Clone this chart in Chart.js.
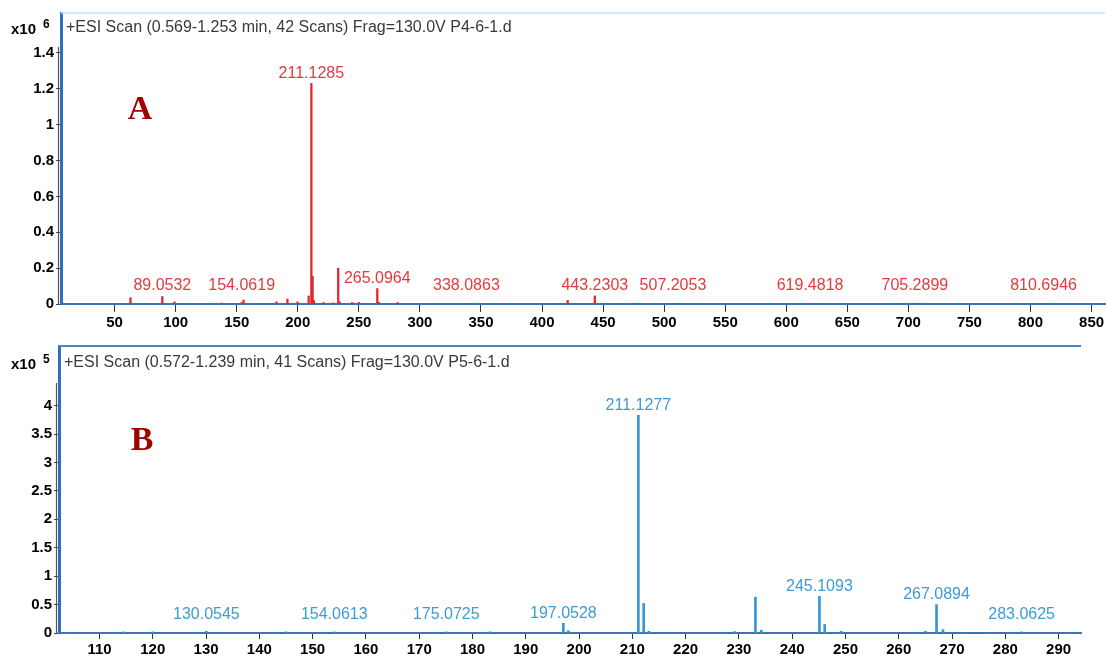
<!DOCTYPE html>
<html><head><meta charset="utf-8">
<script src="https://cdn.jsdelivr.net/npm/chart.js@4.4.1/dist/chart.umd.min.js"></script>
<style>
html,body{margin:0;padding:0;background:#fff;width:1107px;height:659px;overflow:hidden;}
#wa{position:absolute;left:0;top:0;width:1107px;height:340px;}
#wb{position:absolute;left:0;top:335px;width:1107px;height:324px;}
</style></head><body>
<div id="wa"><canvas id="ca"></canvas></div>
<div id="wb"><canvas id="cb"></canvas></div>
<script>
// ---- Panel A (x10^6) ----
const mzA  = [63.0, 89.0532, 99.0, 137.5, 154.0619, 155.6, 182.6, 191.5, 199.8, 208.9, 211.1285, 212.13, 213.2, 221.0, 229.0, 233.1, 234.3, 244.5, 250.0, 265.0964, 266.2, 281.7, 338.0863, 421.0, 443.2303, 476.0, 507.2053, 619.4818, 692.0, 705.2899, 810.6946];
const intA = [0.035, 0.042, 0.012, 0.005, 0.008, 0.022, 0.012, 0.028, 0.012, 0.045, 1.23, 0.155, 0.02, 0.008, 0.006, 0.20, 0.012, 0.008, 0.009, 0.086, 0.01, 0.008, 0.004, 0.02, 0.045, 0.004, 0.004, 0.004, 0.004, 0.004, 0.004];
const labelMzA = [89.0532, 154.0619, 211.1285, 265.0964, 338.0863, 443.2303, 507.2053, 619.4818, 705.2899, 810.6946];
const xTicksA = [50,100,150,200,250,300,350,400,450,500,550,600,650,700,750,800,850];
const yTicksA = [0,0.2,0.4,0.6,0.8,1,1.2,1.4];
const titleA = "+ESI Scan (0.569-1.253 min, 42 Scans) Frag=130.0V P4-6-1.d";

// ---- Panel B (x10^5) ----
const mzB  = [114.5, 120.0, 130.0545, 145.0, 154.0613, 175.0725, 183.3, 197.0528, 198.0, 211.1277, 212.13, 213.1, 229.2, 233.1, 234.2, 245.1093, 246.1, 249.2, 265.0, 267.0894, 268.3, 274.5, 283.0625];
const intB = [0.02, 0.02, 0.03, 0.02, 0.02, 0.02, 0.02, 0.17, 0.04, 3.83, 0.52, 0.03, 0.025, 0.63, 0.05, 0.645, 0.15, 0.03, 0.03, 0.50, 0.06, 0.01, 0.02];
const labelMzB = [130.0545, 154.0613, 175.0725, 197.0528, 211.1277, 245.1093, 267.0894, 283.0625];
const xTicksB = [110,120,130,140,150,160,170,180,190,200,210,220,230,240,250,260,270,280,290];
const yTicksB = [0,0.5,1,1.5,2,2.5,3,3.5,4];
const titleB = "+ESI Scan (0.572-1.239 min, 41 Scans) Frag=130.0V P5-6-1.d";

const tickFont = {family:'"Liberation Sans", Arial, sans-serif', weight:'bold', size:15};

function overlay(o){
  return {
    id:'ov'+o.letter,
    afterDatasetsDraw(chart){
      const ctx = chart.ctx, ca = chart.chartArea;
      const xs = chart.scales.x, ys = chart.scales.y;
      ctx.save();
      ctx.strokeStyle = o.topColor; ctx.lineWidth = o.topWidth;
      ctx.beginPath(); ctx.moveTo(ca.left, ca.top); ctx.lineTo(ca.right, ca.top); ctx.stroke();
      ctx.strokeStyle = '#555'; ctx.lineWidth = 1.2;
      ctx.beginPath(); ctx.moveTo(ca.left-2.5, ca.top+o.axisStart); ctx.lineTo(ca.left-2.5, ca.bottom); ctx.stroke();
      ctx.fillStyle = '#3a3a3a';
      ctx.font = '16px "Liberation Sans", Arial, sans-serif';
      ctx.textBaseline = 'middle'; ctx.textAlign = 'left';
      ctx.fillText(o.title, ca.left + 5, ca.top + o.titleDy);
      ctx.fillStyle = '#000';
      ctx.font = 'bold 15px "Liberation Sans", Arial, sans-serif';
      ctx.fillText('x10', 11, ca.top + o.titleDy + 2);
      ctx.font = 'bold 12px "Liberation Sans", Arial, sans-serif';
      ctx.fillText(o.exp, 43, ca.top + o.titleDy - 3);
      ctx.fillStyle = '#a00000';
      ctx.font = 'bold 34px "Liberation Serif", "Times New Roman", serif';
      ctx.textAlign = 'center';
      ctx.fillText(o.letter, o.letterX, o.letterY);
      ctx.fillStyle = o.labelColor;
      ctx.font = '16px "Liberation Sans", Arial, sans-serif';
      ctx.textBaseline = 'bottom';
      const base = ys.getPixelForValue(0);
      o.labels.forEach(m => {
        let best = 0, bd = 1e9;
        o.mz.forEach((v,i)=>{ const d=Math.abs(v-m); if(d<bd){bd=d;best=i;} });
        const top = ys.getPixelForValue(o.int[best]);
        const y = Math.min(top, base - 8) - 2;
        ctx.fillText(m.toFixed(4), xs.getPixelForValue(m), y);
      });
      ctx.restore();
    }
  };
}

function makeChart(id, o){
  return new Chart(document.getElementById(id), {
    type:'bar',
    data:{datasets:[{
      data:o.mz.map((m,i)=>({x:m, y:o.int[i]})),
      backgroundColor:o.barColor, borderWidth:0,
      barThickness:o.barW, categoryPercentage:1, barPercentage:1, grouped:false
    }]},
    options:{
      responsive:true, maintainAspectRatio:false, animation:false,
      layout:{padding:{top:o.padTop, right:o.padRight, left:0, bottom:0}},
      plugins:{legend:{display:false}, tooltip:{enabled:false}},
      scales:{
        x:{type:'linear', min:o.xmin, max:o.xmax, offset:false,
           grid:{offset:false, drawOnChartArea:false, drawTicks:true, tickLength:o.xTickLen, color:'#333', lineWidth:1},
           border:{color:'#3b72b8', width:2},
           ticks:{font:tickFont, color:'#000', padding:2, maxRotation:0, autoSkip:false, callback:v=>String(v)},
           afterBuildTicks:s=>{ s.ticks = o.xTicks.map(v=>({value:v})); },
           afterFit:s=>{ s.height = o.xAxisH; }},
        y:{min:0, max:o.ymax,
           grid:{offset:false, drawOnChartArea:false, drawTicks:true, tickLength:5, color:'#444'},
           border:{color:'#2f6fbf', width:3},
           ticks:{font:tickFont, color:'#000', padding:2, callback:v=>String(v)},
           afterBuildTicks:s=>{ s.ticks = o.yTicks.map(v=>({value:v})); },
           afterFit:s=>{ s.width = o.yAxisW; }}
      }
    },
    plugins:[overlay(o)]
  });
}

makeChart('ca', {mz:mzA, int:intA, labels:labelMzA, xTicks:xTicksA, yTicks:yTicksA,
  xmin:6.1, xmax:861, ymax:1.623, padTop:13, padRight:2, xAxisH:36, yAxisW:61, xTickLen:8, barW:1.6,
  barColor:'#e2262c', labelColor:'#e5393d', title:titleA, exp:'6', letter:'A', letterX:140, letterY:110,
  topColor:'#bfe3ef', topWidth:1.5, titleDy:15, axisStart:34});

makeChart('cb', {mz:mzB, int:intB, labels:labelMzB, xTicks:xTicksB, yTicks:yTicksB,
  xmin:102.4, xmax:294.2, ymax:5.05, padTop:5, padRight:26, xAxisH:26, yAxisW:59, xTickLen:6, barW:2,
  barColor:'#3797d6', labelColor:'#3d9bd6', title:titleB, exp:'5', letter:'B', letterX:142, letterY:106,
  topColor:'#4a86c6', topWidth:2, titleDy:17, axisStart:37});
</script>
</body></html>
